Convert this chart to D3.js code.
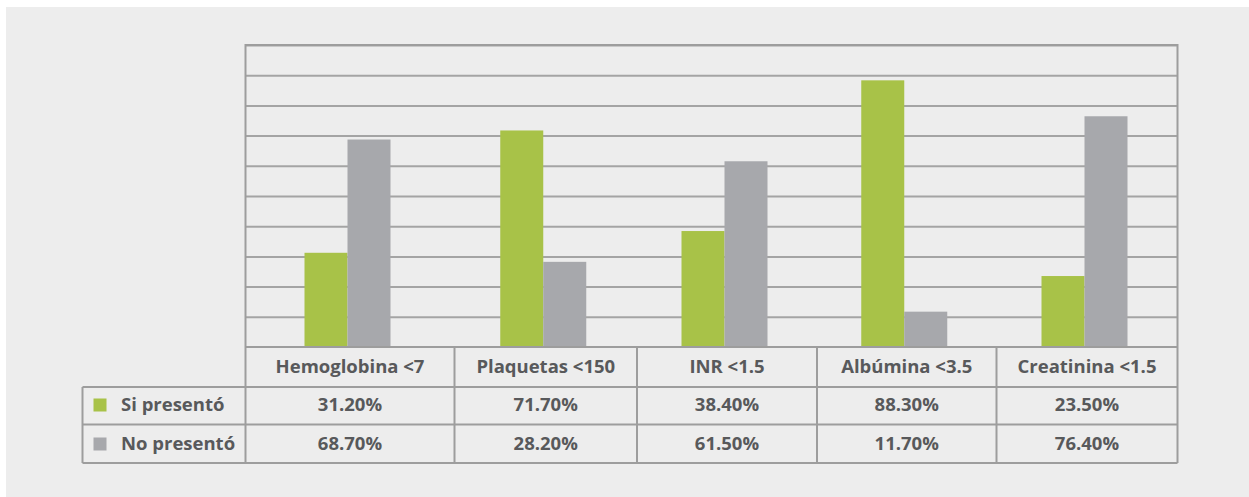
<!DOCTYPE html>
<meta charset="utf-8">
<html>
<head>
    <title>Si / No presentó</title>
    <script src="https://cdn.jsdelivr.net/npm/d3@7"></script>
</head>
<style>
    body{
        margin: 0;
        background: #ffffff;
    }
    svg{
        display: block;
    }
    text{
        font-family: "Open Sans", sans-serif;
        font-weight: 700;
        fill: #58595b;
        font-size: 18.5px;
    }
    .grid line{
        stroke: #a4a4a4;
        stroke-width: 2px;
    }
    .grid path{
        display: none;
    }
    .cell{
        stroke: #9d9d9d;
        stroke-width: 2px;
    }
</style>
<body>
<svg width="1249" height="497"></svg>

<script>
    // data
    const categories = ["Hemoglobina <7", "Plaquetas <150", "INR <1.5", "Albúmina <3.5", "Creatinina <1.5"]
    const siPresento = [31.2, 71.7, 38.4, 88.3, 23.5]
    const noPresento = [68.7, 28.2, 61.5, 11.7, 76.4]
    const seriesNames = ["Si presentó", "No presentó"]
    const seriesColors = ["#a8c248", "#a7a8ac"]

    const svg = d3.select("svg")

    // layout (table columns are not equal)
    const plotLeft = 245.5, plotTop = 45, plotBottom = 347, plotRight = 1177.5
    const legendLeft = 82.5
    const colWidths = [209, 182.5, 180, 179.5, 181]
    const rowLines = [347, 387, 424.5, 463]
    const barW = 43

    // grey panel
    svg.append("rect")
        .attr("x", 6).attr("y", 7)
        .attr("width", 1249).attr("height", 497)
        .attr("fill", "#ededed")

    const y = d3.scaleLinear().domain([0, 100]).range([plotBottom, plotTop])

    // column edges -> ordinal scale
    const edges = [plotLeft]
    colWidths.forEach(w => edges.push(edges[edges.length - 1] + w))
    const x = d3.scaleOrdinal().domain(categories).range(edges.slice(0, -1))
    const colW = d3.scaleOrdinal().domain(categories).range(colWidths)

    // gridlines
    svg.append("g")
        .attr("class", "grid")
        .attr("transform", `translate(${plotLeft},0)`)
        .call(d3.axisLeft(y).ticks(10).tickSize(-(plotRight - plotLeft)).tickFormat(""))
        .selectAll(".tick")
        .filter(d => d === 0)
        .remove()

    // bars
    const series = [siPresento, noPresento]
    series.forEach((vals, s) => {
        svg.append("g")
            .selectAll("rect")
            .data(categories)
            .enter()
            .append("rect")
            .attr("x", c => x(c) + colW(c) / 2 - barW + s * barW - 2.5)
            .attr("y", (c, i) => y(vals[i]))
            .attr("width", barW)
            .attr("height", (c, i) => plotBottom - y(vals[i]))
            .attr("fill", seriesColors[s])
    })

    // plot frame
    svg.append("path")
        .attr("class", "cell")
        .attr("fill", "none")
        .attr("d", `M${plotLeft},${plotBottom}V${plotTop}H${plotRight}V${plotBottom}`)

    // ***************************************
    //        data table under the chart
    // ***************************************
    const t = svg.append("g")

    // horizontal lines
    t.append("line").attr("class", "cell")
        .attr("x1", plotLeft).attr("x2", plotRight).attr("y1", rowLines[0]).attr("y2", rowLines[0])
    rowLines.slice(1).forEach(yy => {
        t.append("line").attr("class", "cell")
            .attr("x1", legendLeft).attr("x2", plotRight).attr("y1", yy).attr("y2", yy)
    })
    // vertical lines
    edges.forEach(xx => {
        t.append("line").attr("class", "cell")
            .attr("x1", xx).attr("x2", xx).attr("y1", rowLines[0]).attr("y2", rowLines[3])
    })
    t.append("line").attr("class", "cell")
        .attr("x1", legendLeft).attr("x2", legendLeft).attr("y1", rowLines[1]).attr("y2", rowLines[3])

    // category labels
    t.selectAll(".cat")
        .data(categories)
        .enter()
        .append("text")
        .attr("x", c => x(c) + colW(c) / 2)
        .attr("y", 373)
        .attr("text-anchor", "middle")
        .text(c => c)

    const fmt = v => v.toFixed(2) + "%"
    const baselines = [411, 450]
    series.forEach((vals, s) => {
        t.selectAll(".v" + s)
            .data(categories)
            .enter()
            .append("text")
            .attr("x", c => x(c) + colW(c) / 2)
            .attr("y", baselines[s])
            .attr("text-anchor", "middle")
            .text((c, i) => fmt(vals[i]))

        // legend key
        t.append("rect")
            .attr("x", 93.5).attr("y", baselines[s] - 12.5)
            .attr("width", 13).attr("height", 13)
            .attr("fill", seriesColors[s])
        t.append("text")
            .attr("x", 121)
            .attr("y", baselines[s])
            .text(seriesNames[s])
    })
</script>
</body>
</html>
